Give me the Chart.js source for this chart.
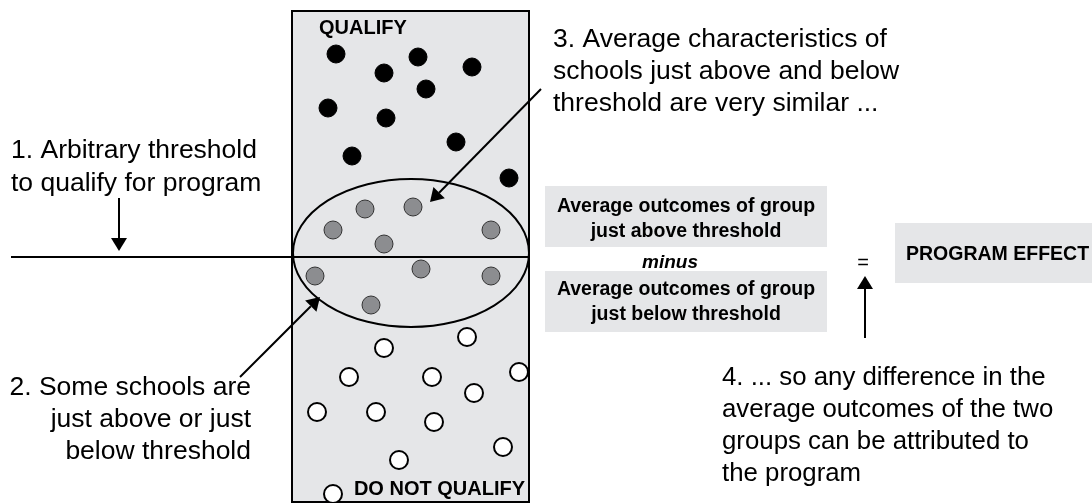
<!DOCTYPE html>
<html lang="en">
<head>
    <meta charset="UTF-8">
    <title>Regression discontinuity</title>
    <script src="https://cdn.jsdelivr.net/npm/chart.js"></script>
    <style>
        html, body { margin: 0; padding: 0; background: #ffffff; }
        #wrap { width: 1092px; height: 503px; }
    </style>
</head>
<body>
    <div id="wrap">
        <canvas id="rd-chart" width="1092" height="503"></canvas>
    </div>
    <script>
        // schools above the threshold (qualify)
        var qualifyX = [336, 384, 418, 472, 426, 328, 386, 456, 352, 509];
        var qualifyY = [54, 73, 57, 67, 89, 108, 118, 142, 156, 178];

        // schools close to the threshold
        var nearX = [365, 413, 333, 491, 384, 315, 421, 491, 371];
        var nearY = [209, 207, 230, 230, 244, 276, 269, 276, 305];

        // schools below the threshold (do not qualify)
        var belowX = [467, 384, 349, 432, 519, 474, 317, 376, 434, 503, 399, 333];
        var belowY = [337, 348, 377, 377, 372, 393, 412, 412, 422, 447, 460, 494];

        var thresholdY = 257;

        var note1 = ['1. Arbitrary threshold', 'to qualify for program'];
        var note2 = ['2. Some schools are', 'just above or just', 'below threshold'];
        var note3 = ['3. Average characteristics of', 'schools just above and below', 'threshold are very similar ...'];
        var note4 = ['4. ... so any difference in the', 'average outcomes of the two', 'groups can be attributed to', 'the program'];
        var aboveBox = ['Average outcomes of group', 'just above threshold'];
        var belowBox = ['Average outcomes of group', 'just below threshold'];

        function toPts(xs, ys) {
            return xs.map(function(x, i) { return { x: x, y: ys[i] }; });
        }

        var FONT = '"Liberation Sans", Arial, sans-serif';

        var diagramPlugin = {
            id: 'diagram',
            beforeDatasetsDraw: function(chart) {
                var ctx = chart.ctx;
                var sx = chart.scales.x, sy = chart.scales.y;
                function px(v) { return sx.getPixelForValue(v); }
                function py(v) { return sy.getPixelForValue(v); }

                ctx.save();
                // main column
                ctx.fillStyle = '#e5e6e8';
                ctx.fillRect(px(292), py(11), px(529) - px(292), py(502) - py(11));
                // grey result boxes
                ctx.fillRect(px(545), py(186), px(827) - px(545), py(247) - py(186));
                ctx.fillRect(px(545), py(271), px(827) - px(545), py(332) - py(271));
                ctx.fillRect(px(895), py(223), px(1092) - px(895), py(283) - py(223));

                ctx.strokeStyle = '#000';
                ctx.lineWidth = 2;
                ctx.strokeRect(px(292), py(11), px(529) - px(292), py(502) - py(11));

                // ellipse around schools near the threshold
                ctx.beginPath();
                ctx.ellipse(px(411), py(253), px(529) - px(411), py(327) - py(253), 0, 0, Math.PI * 2);
                ctx.stroke();

                // threshold line
                ctx.beginPath();
                ctx.moveTo(px(11), py(thresholdY));
                ctx.lineTo(px(529), py(thresholdY));
                ctx.stroke();
                ctx.restore();
            },
            afterDatasetsDraw: function(chart) {
                var ctx = chart.ctx;
                var sx = chart.scales.x, sy = chart.scales.y;
                function px(v) { return sx.getPixelForValue(v); }
                function py(v) { return sy.getPixelForValue(v); }

                function arrow(x1, y1, x2, y2) {
                    var a = Math.atan2(py(y2) - py(y1), px(x2) - px(x1));
                    var len = 13, hw = 8;
                    var bx = px(x2) - Math.cos(a) * len, by = py(y2) - Math.sin(a) * len;
                    ctx.beginPath();
                    ctx.moveTo(px(x1), py(y1));
                    ctx.lineTo(bx, by);
                    ctx.stroke();
                    ctx.beginPath();
                    ctx.moveTo(px(x2), py(y2));
                    ctx.lineTo(bx + Math.sin(a) * hw, by - Math.cos(a) * hw);
                    ctx.lineTo(bx - Math.sin(a) * hw, by + Math.cos(a) * hw);
                    ctx.closePath();
                    ctx.fill();
                }

                function lines(arr, x, y, step, align, font) {
                    ctx.font = font;
                    ctx.textAlign = align;
                    ctx.textBaseline = 'alphabetic';
                    arr.forEach(function(t, i) { ctx.fillText(t, px(x), py(y + i * step)); });
                }

                ctx.save();
                ctx.strokeStyle = '#000';
                ctx.fillStyle = '#000';
                ctx.lineWidth = 2;
                arrow(119, 198, 119, 251);
                arrow(240, 377, 320, 297);
                arrow(541, 89, 430, 202);
                arrow(865, 338, 865, 276);

                var reg = '26.5px ' + FONT;
                var bold = 'bold 19.5px ' + FONT;
                lines(note1, 11, 158, 33, 'left', reg);
                lines(note2, 251, 395, 32, 'right', reg);
                lines(note3, 553, 47, 32, 'left', reg);
                lines(note4, 722, 385, 32, 'left', '25.8px ' + FONT);

                lines(aboveBox, 686, 212, 25, 'center', bold);
                lines(belowBox, 686, 295, 25, 'center', bold);
                lines(['minus'], 670, 268, 0, 'center', 'italic bold 19px ' + FONT);
                lines(['='], 863, 269, 0, 'center', '20px ' + FONT);
                lines(['PROGRAM EFFECT'], 906, 260, 0, 'left', bold);

                lines(['QUALIFY'], 319, 34, 0, 'left', 'bold 20px ' + FONT);
                lines(['DO NOT QUALIFY'], 525, 495, 0, 'right', 'bold 20px ' + FONT);
                ctx.restore();
            }
        };

        var ctx = document.getElementById('rd-chart').getContext('2d');
        var rdChart = new Chart(ctx, {
            type: 'scatter',
            data: {
                datasets: [{
                    label: 'Qualify',
                    data: toPts(qualifyX, qualifyY),
                    pointRadius: 9,
                    pointBackgroundColor: '#000000',
                    pointBorderColor: '#000000',
                    pointBorderWidth: 1
                }, {
                    label: 'Near threshold',
                    data: toPts(nearX, nearY),
                    pointRadius: 9,
                    pointBackgroundColor: '#8c8d90',
                    pointBorderColor: '#333333',
                    pointBorderWidth: 1
                }, {
                    label: 'Do not qualify',
                    data: toPts(belowX, belowY),
                    pointRadius: 9,
                    pointBackgroundColor: '#ffffff',
                    pointBorderColor: '#000000',
                    pointBorderWidth: 2
                }]
            },
            options: {
                responsive: false,
                animation: false,
                clip: false,
                layout: { padding: 0, autoPadding: false },
                plugins: {
                    legend: { display: false },
                    tooltip: { enabled: false }
                },
                scales: {
                    x: { type: 'linear', min: 0, max: 1092, display: false },
                    y: { type: 'linear', min: 0, max: 503, reverse: true, display: false }
                }
            },
            plugins: [diagramPlugin]
        });
    </script>
</body>
</html>
